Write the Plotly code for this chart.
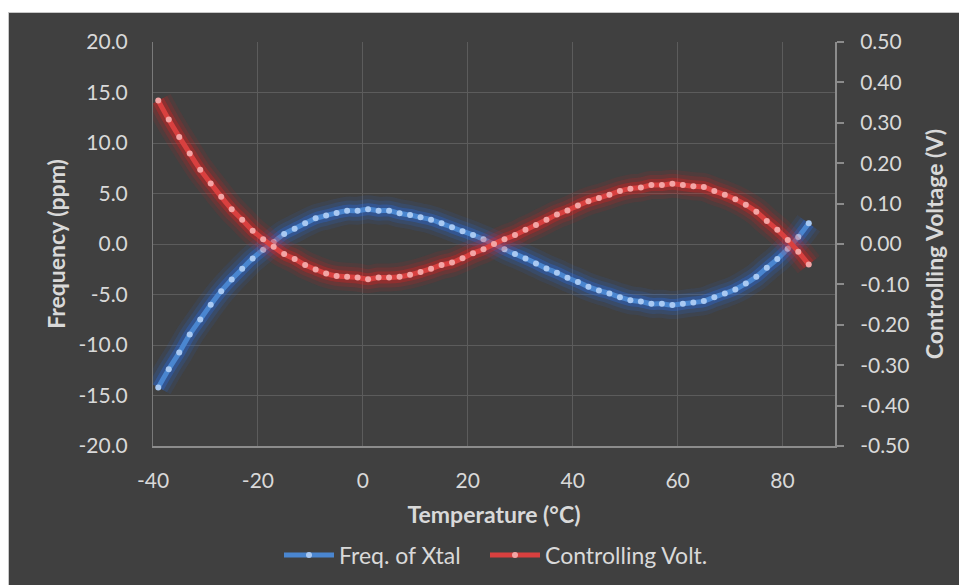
import plotly.graph_objects as go

# ---- data ----
temperature = [-39, -37, -35, -33, -31, -29, -27, -25, -23, -21, -19, -17, -15, -13, -11, -9, -7, -5, -3, -1,
               1, 3, 5, 7, 9, 11, 13, 15, 17, 19, 21, 23, 25, 27, 29, 31, 33, 35, 37, 39, 41, 43, 45, 47, 49,
               51, 53, 55, 57, 59, 61, 63, 65, 67, 69, 71, 73, 75, 77, 79, 81, 83, 85]

freq_ppm = [-14.2, -12.4, -10.75, -8.97, -7.48, -6.02, -4.67, -3.51, -2.45, -1.43, -0.57, 0.2, 0.99, 1.52, 2.05,
            2.54, 2.81, 3.08, 3.30, 3.30,
            3.43, 3.30, 3.30, 3.04, 2.87, 2.64, 2.41, 2.05, 1.65, 1.27, 0.89, 0.46, 0.0, -0.53, -0.99, -1.43,
            -1.92, -2.42, -2.85, -3.34, -3.77, -4.24, -4.60, -4.90, -5.26, -5.56, -5.69, -5.92, -5.92, -6.05,
            -5.92, -5.79, -5.65, -5.26, -4.90, -4.50, -3.91, -3.24, -2.35, -1.49, -0.47, 0.69, 2.05]

ctrl_volt = [0.355, 0.308, 0.265, 0.224, 0.184, 0.150, 0.117, 0.086, 0.060, 0.033, 0.012, -0.007, -0.025, -0.037,
             -0.052, -0.063, -0.073, -0.079, -0.081, -0.083,
             -0.087, -0.083, -0.083, -0.081, -0.076, -0.069, -0.061, -0.052, -0.046, -0.035, -0.023, -0.013,
             0.000, 0.012, 0.022, 0.035, 0.047, 0.060, 0.073, 0.083, 0.095, 0.106, 0.114, 0.122, 0.131, 0.137,
             0.140, 0.146, 0.146, 0.149, 0.146, 0.143, 0.141, 0.131, 0.122, 0.111, 0.097, 0.080, 0.057, 0.035,
             0.010, -0.019, -0.051]

x_ticks = [-40, -20, 0, 20, 40, 60, 80]
x_tick_labels = ["-40", "-20", "0", "20", "40", "60", "80"]
y1_ticks = [20, 15, 10, 5, 0, -5, -10, -15, -20]
y1_tick_labels = ["20.0", "15.0", "10.0", "5.0", "0.0", "-5.0", "-10.0", "-15.0", "-20.0"]
y2_ticks = [0.5, 0.4, 0.3, 0.2, 0.1, 0.0, -0.1, -0.2, -0.3, -0.4, -0.5]
y2_tick_labels = ["0.50", "0.40", "0.30", "0.20", "0.10", "0.00", "-0.10", "-0.20", "-0.30", "-0.40", "-0.50"]

series_names = ["Freq. of Xtal", "Controlling Volt."]

# ---- styling ----
BG = "#404040"
TXT = "#d9d9d9"
GRID = "#5c5c5c"
AXIS = "#8c8c8c"
FONT = "Lato, Open Sans, sans-serif"

blue_core, blue_dot, blue_glow = "#4a86d0", "#a9c9f2", "rgba(40,110,230,{a})"
red_core, red_dot, red_glow = "#d9403f", "#f3a5a5", "rgba(230,30,30,{a})"

fig = go.Figure()

def add_series(y, name, core, dot, glow, yaxis, legend):
    for w, a in [(28, 0.10), (20, 0.16), (12, 0.32)]:
        fig.add_trace(go.Scatter(x=temperature, y=y, mode="lines", yaxis=yaxis,
                                 line=dict(color=glow.format(a=a), width=w, shape="spline"),
                                 hoverinfo="skip", showlegend=False))
    fig.add_trace(go.Scatter(x=temperature, y=y, mode="lines+markers", name=name, yaxis=yaxis,
                             legend=legend,
                             line=dict(color=core, width=5, shape="spline"),
                             marker=dict(color=dot, size=6, line=dict(width=0))))

add_series(freq_ppm, series_names[0], blue_core, blue_dot, blue_glow, "y", "legend")
add_series(ctrl_volt, series_names[1], red_core, red_dot, red_glow, "y2", "legend2")

# the page body adds an 8px offset, so the figure is 8px smaller
OFF = 8
W, H = 967 - OFF, 585 - OFF
L = 153 - OFF
R = W - (835 - OFF)
T = 42 - OFF
B = H - (446 - OFF)
pw, ph = W - L - R, H - T - B

def px_x(p):
    return (p - OFF - L) / pw

def px_y(p):
    return (H - B - (p - OFF)) / ph

fig.add_shape(type="rect", xref="paper", yref="paper", layer="below",
              x0=px_x(8.5), x1=px_x(990), y0=px_y(600), y1=px_y(12.5),
              fillcolor=BG, line=dict(color="#c8c8c8", width=1))

legend_style = dict(orientation="h", yanchor="middle", y=px_y(555),
                    bgcolor="rgba(0,0,0,0)", font=dict(size=23, color=TXT), itemwidth=50)

fig.update_layout(
    width=W, height=H,
    margin=dict(l=L, r=R, t=T, b=B, pad=0, autoexpand=False),
    paper_bgcolor="white",
    plot_bgcolor=BG,
    font=dict(family=FONT, size=21, color=TXT),
    showlegend=True,
    legend=dict(x=px_x(466), xanchor="right", **legend_style),
    legend2=dict(x=px_x(485), xanchor="left", **legend_style),
    xaxis=dict(range=[-40, 90], tickvals=x_ticks, ticktext=x_tick_labels, automargin=False,
               showgrid=True, gridcolor=GRID, gridwidth=1, zeroline=False,
               showline=True, linecolor=AXIS, linewidth=2, ticks="",
               ticklabelstandoff=15, tickfont=dict(size=21),
               title=dict(text="<b>Temperature (°C)</b>", standoff=16,
                          font=dict(size=23, color=TXT))),
    yaxis=dict(range=[-20, 20], tickvals=y1_ticks, ticktext=y1_tick_labels, automargin=False,
               showgrid=True, gridcolor=GRID, gridwidth=1, zeroline=False,
               showline=True, linecolor="#7a7a7a", linewidth=1, ticks="",
               ticklabelstandoff=20, tickfont=dict(size=21),
               title=dict(text="<b>Frequency (ppm)</b>", standoff=6,
                          font=dict(size=23, color=TXT))),
    yaxis2=dict(range=[-0.5, 0.5], tickvals=y2_ticks, ticktext=y2_tick_labels, automargin=False,
                overlaying="y", side="right", showgrid=False, zeroline=False,
                showline=True, linecolor=AXIS, linewidth=2,
                ticks="outside", ticklen=7, tickcolor=AXIS, tickwidth=2,
                ticklabelstandoff=12, tickfont=dict(size=21),
                title=dict(text="<b>Controlling Voltage (V)</b>", standoff=18,
                           font=dict(size=23, color=TXT))),
)

fig.write_html("out.html")
